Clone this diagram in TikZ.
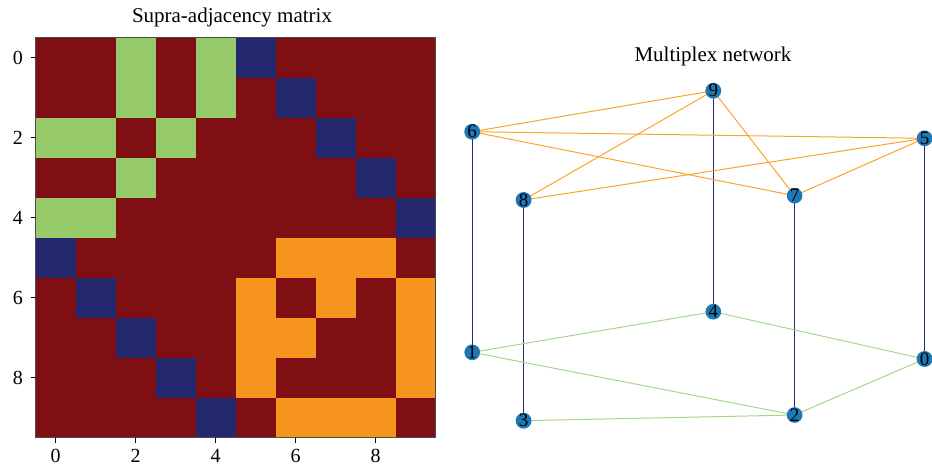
\documentclass[tikz,border=0pt]{standalone}
\usepackage{fontspec}
\setmainfont{Liberation Serif}
\definecolor{mred}{HTML}{7E1014}
\definecolor{mgreen}{HTML}{96CA6B}
\definecolor{mblue}{HTML}{25276F}
\definecolor{morange}{HTML}{F7941E}
\definecolor{nodeblue}{HTML}{1F77B4}
\definecolor{eorange}{HTML}{FBA42A}
\definecolor{egreen}{HTML}{A6D68E}
\definecolor{evert}{HTML}{2A2A66}
\tikzset{
  vtx/.style={circle,fill=nodeblue,inner sep=0pt,minimum size=15pt,font=\fontsize{19}{19}\selectfont,text=black},
  oedge/.style={draw=eorange,line width=1pt},
  gedge/.style={draw=egreen,line width=1pt},
  vedge/.style={draw=evert,line width=1.1pt},
  ticklab/.style={font=\fontsize{20}{20}\selectfont},
  titlelab/.style={font=\fontsize{21}{21}\selectfont},
}
\newcommand{\mcell}[3]{\fill[#3] ({35.5+#2*40},{37.5+#1*40}) rectangle +(40,40);}
\begin{document}
\begin{tikzpicture}[x=1pt,y=-1pt]
\useasboundingbox (0,0) rectangle (932,472);
% matrix
\fill[mred] (35.5,37.5) rectangle (435.5,437.5);
\foreach \r/\c in {0/2,0/4,1/2,1/4,2/0,2/1,2/3,3/2,4/0,4/1}{\mcell{\r}{\c}{mgreen}}
\foreach \r in {0,...,4}{\pgfmathtruncatemacro\cc{\r+5}\mcell{\r}{\cc}{mblue}}
\foreach \r in {5,...,9}{\pgfmathtruncatemacro\cc{\r-5}\mcell{\r}{\cc}{mblue}}
\foreach \r/\c in {5/6,5/7,5/8,6/5,6/7,6/9,7/5,7/6,7/9,8/5,8/9,9/6,9/7,9/8}{\mcell{\r}{\c}{morange}}
\draw[line width=0.6pt,black!70] (35.5,37.5) rectangle (435.5,437.5);
\foreach \i in {0,2,4,6,8}{
  \draw[line width=0.8pt] (35.5,{57.5+\i*40}) -- (30.5,{57.5+\i*40});
  \node[ticklab,anchor=east,inner sep=0pt] at (23,{57.5+\i*40}) {\i};
  \draw[line width=0.8pt] ({55.5+\i*40},437.5) -- ({55.5+\i*40},442.5);
  \node[ticklab,anchor=north,inner sep=0pt] at ({55.5+\i*40},449) {\i};
}
\node[titlelab] (t1) at (232,17) {Supra-adjacency matrix};
\node[titlelab] (t2) at (713,56) {Multiplex network};
% network nodes
\coordinate (p9) at (713.3,90.7);
\coordinate (p6) at (472.2,131.7);
\coordinate (p5) at (924.6,138.3);
\coordinate (p8) at (523.6,200);
\coordinate (p7) at (794.6,195.7);
\coordinate (p4) at (713.3,311.7);
\coordinate (p1) at (472.2,352.3);
\coordinate (p0) at (924.6,359);
\coordinate (p3) at (523.6,420.7);
\coordinate (p2) at (794.6,415);
% edges
\draw[vedge] (p6) -- (p1);
\draw[vedge] (p8) -- (p3);
\draw[vedge] (p9) -- (p4);
\draw[vedge] (p7) -- (p2);
\draw[vedge] (p5) -- (p0);
\foreach \a/\b in {6/9,6/5,6/7,8/9,8/5,9/7,7/5}{\draw[oedge] (p\a) -- (p\b);}
\foreach \a/\b in {1/4,1/2,4/0,3/2,2/0}{\draw[gedge] (p\a) -- (p\b);}
\foreach \n in {0,...,9}{\node[vtx] (n\n) at (p\n) {\n};}
\end{tikzpicture}
\end{document}
